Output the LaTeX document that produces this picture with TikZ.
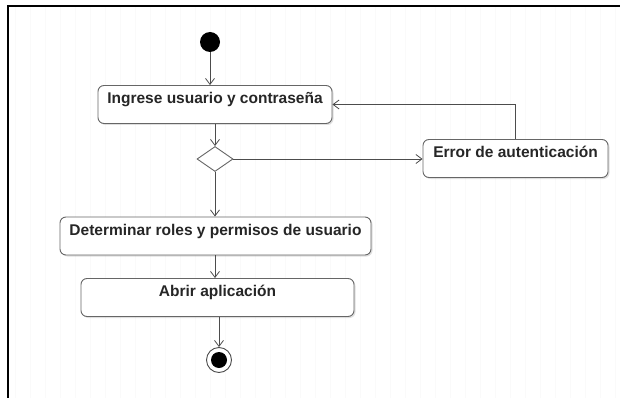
\documentclass[tikz,border=0pt]{standalone}
\usepackage{fontspec}
\setmainfont{Liberation Sans}
\usetikzlibrary{arrows.meta,shapes.geometric,shadows}
\tikzset{
  actividad/.style={draw=black!60, fill=white, rounded corners=6pt, line width=0.9pt,
    font=\fontsize{15.5}{17}\selectfont\bfseries, text=black!85,
    text height=15pt, text depth=17pt, inner xsep=0pt, inner ysep=3pt,
    drop shadow={shadow xshift=1.5pt, shadow yshift=-1.5pt, opacity=0.25}},
  decision/.style={diamond, draw=black!60, fill=white, line width=0.9pt,
    minimum width=36pt, minimum height=25pt, inner sep=0pt},
  inicio/.style={circle, fill=black, minimum size=20pt, inner sep=0pt},
  final/.style={circle, draw=black!70, fill=white, line width=0.9pt, minimum size=25pt,
    inner sep=0pt, path picture={\fill[black] (path picture bounding box.center) circle (8pt);}},
  flujo/.style={draw=black!70, line width=0.8pt, -{Straight Barb[length=6pt,width=9pt]}},
}
\begin{document}
\begin{tikzpicture}[x=1pt,y=-1pt]
  \useasboundingbox (0,0) rectangle (620,398);
  % fondo
  \draw[black!2, step=15] (8,6) grid (620,398);
  \draw[line width=2pt] (8,398) -- (8,6) -- (620,6);
  % nodos
  \node[inicio] (inicio) at (210,42) {};
  \node[actividad, minimum width=234pt] (ingreso) at (215,104.5) {Ingrese usuario y contraseña};
  \node[decision] (decision) at (215,159) {};
  \node[actividad, minimum width=185pt] (error) at (515.5,158.5) {Error de autenticación};
  \node[actividad, minimum width=311pt] (roles) at (215.5,236) {Determinar roles y permisos de usuario};
  \node[actividad, minimum width=273pt] (abrir) at (217.5,297.5) {Abrir aplicación};
  \node[final] (fin) at (219,360) {};
  % flujos
  \draw[flujo] (inicio) -- (inicio |- ingreso.north);
  \draw[flujo] (ingreso.south -| decision) -- (decision.north);
  \draw[flujo] (decision.east) -- (decision.east -| error.west);
  \draw[flujo] (error.north) |- (ingreso.east);
  \draw[flujo] (decision.south) -- (decision |- roles.north);
  \draw[flujo] (roles.south -| decision) -- (decision |- abrir.north);
  \draw[flujo] (abrir.south -| fin) -- (fin.north);
\end{tikzpicture}
\end{document}
